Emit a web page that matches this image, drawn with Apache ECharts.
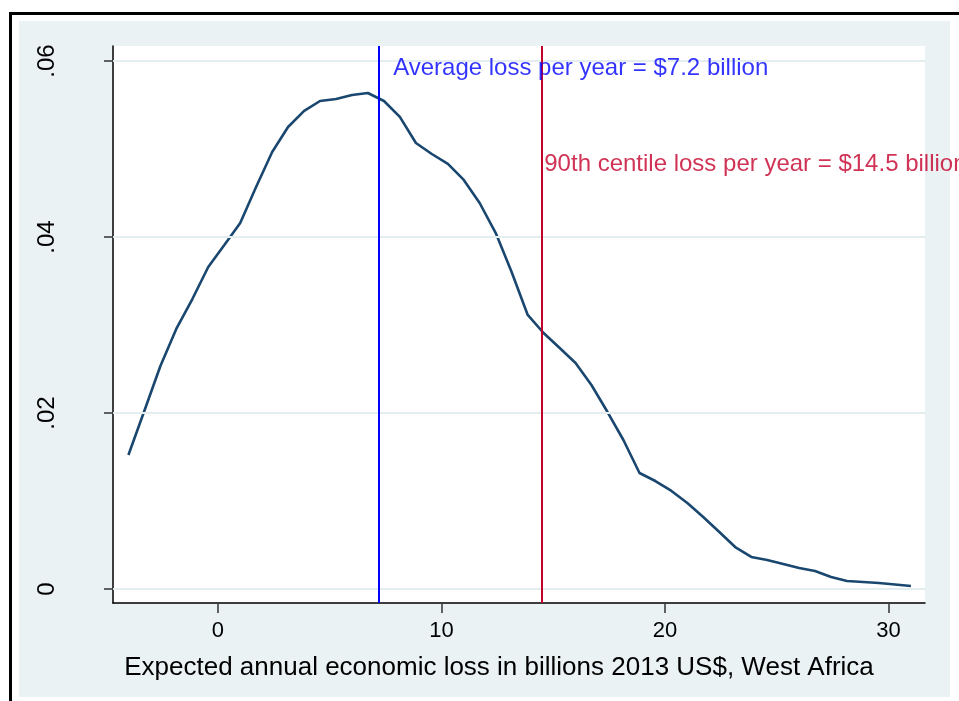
<!DOCTYPE html>
<html>
<head>
<meta charset="utf-8">
<script src="https://cdn.jsdelivr.net/npm/echarts@6/dist/echarts.min.js"></script>
<style>
  html, body { margin: 0; padding: 0; background: #ffffff; }
  #chart { width: 959px; height: 701px; }
</style>
</head>
<body>
<div id="chart"></div>
<script>
// Kernel density of expected annual economic loss (billions 2013 US$)
const lossX = [
  -4.00, -3.29, -2.57, -1.86, -1.14, -0.43, 0.29, 1.00, 1.71, 2.43,
  3.14, 3.86, 4.57, 5.29, 6.00, 6.71, 7.43, 8.14, 8.86, 9.57,
  10.29, 11.00, 11.71, 12.43, 13.14, 13.86, 14.57, 15.29, 16.00, 16.71,
  17.43, 18.14, 18.86, 19.57, 20.29, 21.00, 21.71, 22.43, 23.14, 23.86,
  24.57, 25.29, 26.00, 26.71, 27.43, 28.14, 28.86, 29.57, 30.29, 31.00
];
const density = [
  0.01523, 0.02023, 0.02534, 0.02955, 0.03295, 0.03659, 0.03909, 0.04159, 0.04568, 0.04966,
  0.05250, 0.05432, 0.05545, 0.05568, 0.05614, 0.05636, 0.05545, 0.05364, 0.05068, 0.04943,
  0.04830, 0.04648, 0.04386, 0.04045, 0.03602, 0.03114, 0.02909, 0.02739, 0.02568, 0.02318,
  0.02011, 0.01693, 0.01318, 0.01227, 0.01114, 0.00977, 0.00818, 0.00648, 0.00477, 0.00364,
  0.00330, 0.00284, 0.00239, 0.00205, 0.00136, 0.00091, 0.00080, 0.00068, 0.00051, 0.00034
];
const xTicks = [0, 10, 20, 30];
const yTicks = [0, 0.02, 0.04, 0.06];
const yTickLabels = ['0', '.02', '.04', '.06'];

const averageLoss = 7.2;
const centileLoss = 14.5;
const averageText = 'Average loss per year = $7.2 billion';
const centileText = '90th centile loss per year = $14.5 billion';
const averageTextAt = [7.84, 0.0592];
const centileTextAt = [14.6, 0.0482];
const xTitle = 'Expected annual economic loss in billions 2013 US$, West Africa';

const FONT = 'Arial, "Liberation Sans", sans-serif';
const NAVY = '#1a476f';
const BLUE = '#0000ff';
const RED = '#c4002c';
const PANEL = '#eaf2f3';
const GRID_LINE = '#e4edef';

const chart = echarts.init(document.getElementById('chart'), null, { renderer: 'canvas' });

chart.setOption({
  backgroundColor: '#ffffff',
  animation: false,
  textStyle: { fontFamily: FONT },
  graphic: [
    {
      type: 'rect', z: -20, silent: true,
      shape: { x: 10.5, y: 13.5, width: 1000, height: 800 },
      style: { fill: '#ffffff', stroke: '#000000', lineWidth: 3 }
    },
    {
      type: 'rect', z: -19, silent: true,
      shape: { x: 19, y: 21, width: 931, height: 676 },
      style: { fill: PANEL }
    }
  ],
  grid: {
    left: 113, top: 46, right: 34, bottom: 98,
    show: true, backgroundColor: '#ffffff', borderWidth: 0
  },
  xAxis: {
    type: 'value',
    min: -4.69, max: 31.63,
    axisLine: { show: true, onZero: false, lineStyle: { color: '#000000', width: 1.5 } },
    axisTick: { show: true, customValues: xTicks, length: 10, lineStyle: { color: '#333333', width: 1.5 } },
    axisLabel: { customValues: xTicks, fontSize: 22, color: '#000000', margin: 17, fontFamily: FONT },
    splitLine: { show: false },
    name: xTitle,
    nameLocation: 'middle',
    nameGap: 52,
    nameTextStyle: { fontSize: 26, color: '#000000', fontFamily: FONT, padding: [0, 40, 0, 0] }
  },
  yAxis: {
    type: 'value',
    min: -0.00159, max: 0.0617,
    axisLine: { show: true, onZero: false, lineStyle: { color: '#000000', width: 1.5 } },
    axisTick: { show: true, customValues: yTicks, length: 9, lineStyle: { color: '#333333', width: 1.5 } },
    axisLabel: {
      customValues: yTicks, rotate: 90, fontSize: 24, color: '#000000', margin: 54, fontFamily: FONT,
      formatter: function (v) {
        for (let i = 0; i < yTicks.length; i++) {
          if (Math.abs(yTicks[i] - v) < 1e-9) return yTickLabels[i];
        }
        return '';
      }
    },
    splitLine: { show: false }
  },
  series: [
    {
      // horizontal reference grid
      type: 'line', data: [], z: 1, silent: true,
      markLine: {
        silent: true, symbol: 'none', animation: false,
        label: { show: false },
        lineStyle: { color: GRID_LINE, width: 2, type: 'solid' },
        data: yTicks.map(function (v) { return { yAxis: v }; })
      }
    },
    {
      type: 'line', z: 3,
      data: lossX.map(function (x, i) { return [x, density[i]]; }),
      showSymbol: false, smooth: false,
      lineStyle: { color: NAVY, width: 2.6 }
    },
    {
      // mean and 90th centile markers
      type: 'line', data: [], z: 4, silent: true,
      markLine: {
        silent: true, symbol: 'none', animation: false,
        label: { show: false },
        data: [
          { xAxis: averageLoss, lineStyle: { color: BLUE, width: 2, type: 'solid' } },
          { xAxis: centileLoss, lineStyle: { color: RED, width: 2, type: 'solid' } }
        ]
      }
    },
    {
      type: 'scatter', z: 5, silent: true, symbolSize: 0,
      data: [
        { value: averageTextAt, label: { formatter: averageText, color: BLUE } },
        { value: centileTextAt, label: { formatter: centileText, color: RED } }
      ],
      label: { show: true, position: 'right', distance: 0, fontSize: 24, fontFamily: FONT }
    }
  ]
});
</script>
</body>
</html>
